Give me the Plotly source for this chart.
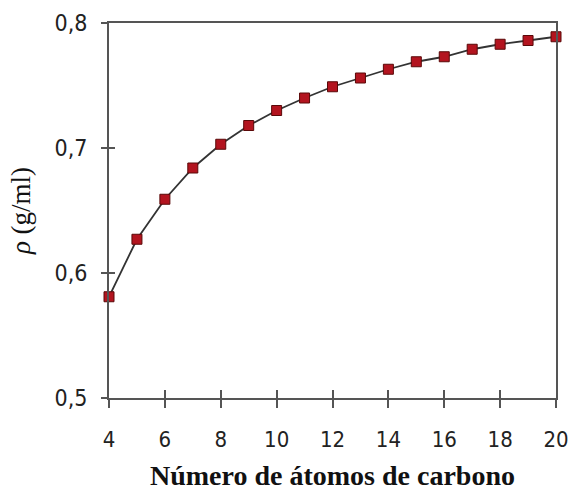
import plotly.graph_objects as go

carbon_atoms = [4, 5, 6, 7, 8, 9, 10, 11, 12, 13, 14, 15, 16, 17, 18, 19, 20]
density = [0.581, 0.627, 0.659, 0.684, 0.703, 0.718, 0.730, 0.740, 0.749, 0.756,
           0.763, 0.769, 0.773, 0.779, 0.783, 0.786, 0.789]
x_ticks = [4, 6, 8, 10, 12, 14, 16, 18, 20]
y_ticks = [0.5, 0.6, 0.7, 0.8]
y_tick_text = ["0,5", "0,6", "0,7", "0,8"]

font_family = "Liberation Sans Narrow, DejaVu Sans Condensed, Arial Narrow, sans-serif"
axis_color = "#555555"

fig = go.Figure()
fig.add_trace(go.Scatter(
    x=carbon_atoms, y=density, mode="lines+markers",
    line=dict(color="#333333", width=1.8),
    marker=dict(symbol="square", size=10, color="#b3141f",
                line=dict(color="#5a0808", width=1)),
    cliponaxis=False, showlegend=False,
))
# invisible trace to host the overlay axes (inner tick halves)
fig.add_trace(go.Scatter(
    x=carbon_atoms, y=density, mode="lines", xaxis="x2", yaxis="y2",
    line=dict(width=0), opacity=0, hoverinfo="skip", showlegend=False,
))

fig.update_layout(
    width=569, height=498,
    margin=dict(l=109, r=13, t=23, b=100),
    paper_bgcolor="white", plot_bgcolor="white",
    xaxis=dict(range=[4, 20], tickvals=x_ticks, ticks="outside", ticklen=8,
               tickwidth=1.5, tickcolor=axis_color, showline=True, linecolor=axis_color,
               linewidth=2, mirror=True, showgrid=False, zeroline=False,
               tickfont=dict(family=font_family, size=22, color="#222222"),
               ticklabelstandoff=13, automargin=False,
               title=dict(text="<b>Número de átomos de carbono</b>",
                          font=dict(family="Liberation Serif, Times New Roman, serif",
                                    size=28, color="#111111"),
                          standoff=14)),
    yaxis=dict(range=[0.5, 0.8], tickvals=y_ticks, ticktext=y_tick_text,
               ticks="outside", ticklen=6, tickwidth=1.5, tickcolor=axis_color,
               showline=True, linecolor=axis_color, linewidth=2, mirror=True,
               showgrid=False, zeroline=False,
               tickfont=dict(family=font_family, size=23, color="#222222"),
               ticklabelstandoff=9, automargin=False,
               title=dict(text="<i>ρ</i> (g/ml)",
                          font=dict(family="Liberation Serif, Times New Roman, serif",
                                    size=27, color="#111111"),
                          standoff=16)),
    xaxis2=dict(range=[4, 20], tickvals=x_ticks, ticks="inside", ticklen=8,
                tickwidth=1.5, tickcolor=axis_color, showticklabels=False,
                overlaying="x", anchor="y", showgrid=False, zeroline=False,
                showline=False),
    yaxis2=dict(range=[0.5, 0.8], tickvals=y_ticks, ticks="inside", ticklen=6,
                tickwidth=1.5, tickcolor=axis_color, showticklabels=False,
                overlaying="y", anchor="x", side="left", showgrid=False,
                zeroline=False, showline=False),
)

fig.write_html("out.html")
